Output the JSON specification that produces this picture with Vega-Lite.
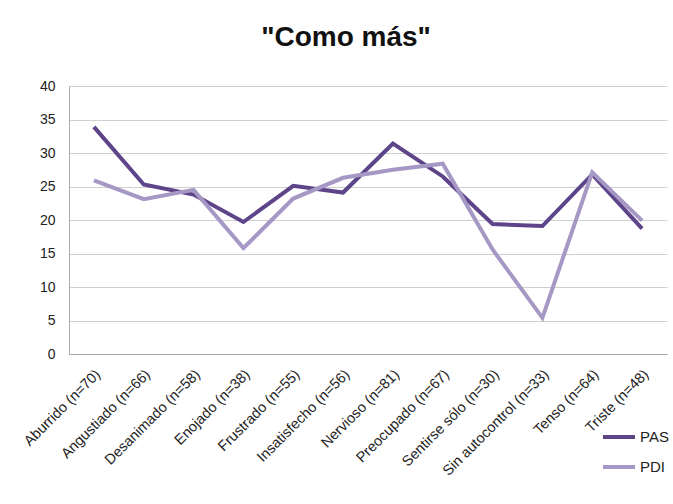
{
  "$schema": "https://vega.github.io/schema/vega-lite/v6.json",
  "autosize": "none",
  "width": 598,
  "height": 268,
  "padding": {"left": 69, "top": 86, "right": 6, "bottom": 150},
  "background": "white",
  "title": {"text": "\"Como más\"", "font": "Liberation Sans", "fontSize": 28, "fontWeight": "bold", "color": "#111", "anchor": "middle", "dx": -22, "offset": 27},
  "data": {"values": [
    {"c": "Aburrido (n=70)", "s": "PAS", "v": 33.9},
    {"c": "Angustiado (n=66)", "s": "PAS", "v": 25.3},
    {"c": "Desanimado (n=58)", "s": "PAS", "v": 23.8},
    {"c": "Enojado (n=38)", "s": "PAS", "v": 19.7},
    {"c": "Frustrado (n=55)", "s": "PAS", "v": 25.1},
    {"c": "Insatisfecho (n=56)", "s": "PAS", "v": 24.1},
    {"c": "Nervioso (n=81)", "s": "PAS", "v": 31.4},
    {"c": "Preocupado (n=67)", "s": "PAS", "v": 26.5},
    {"c": "Sentirse sólo (n=30)", "s": "PAS", "v": 19.4},
    {"c": "Sin autocontrol (n=33)", "s": "PAS", "v": 19.1},
    {"c": "Tenso (n=64)", "s": "PAS", "v": 26.8},
    {"c": "Triste (n=48)", "s": "PAS", "v": 18.7},
    {"c": "Aburrido (n=70)", "s": "PDI", "v": 25.9},
    {"c": "Angustiado (n=66)", "s": "PDI", "v": 23.1},
    {"c": "Desanimado (n=58)", "s": "PDI", "v": 24.5},
    {"c": "Enojado (n=38)", "s": "PDI", "v": 15.8},
    {"c": "Frustrado (n=55)", "s": "PDI", "v": 23.2},
    {"c": "Insatisfecho (n=56)", "s": "PDI", "v": 26.3},
    {"c": "Nervioso (n=81)", "s": "PDI", "v": 27.5},
    {"c": "Preocupado (n=67)", "s": "PDI", "v": 28.4},
    {"c": "Sentirse sólo (n=30)", "s": "PDI", "v": 15.6},
    {"c": "Sin autocontrol (n=33)", "s": "PDI", "v": 5.4},
    {"c": "Tenso (n=64)", "s": "PDI", "v": 27.1},
    {"c": "Triste (n=48)", "s": "PDI", "v": 19.9}
  ]},
  "mark": {"type": "line", "strokeWidth": 4, "strokeJoin": "miter"},
  "encoding": {
    "x": {"field": "c", "type": "nominal", "sort": null, "title": null,
      "scale": {"paddingInner": 0, "paddingOuter": 0},
      "axis": {"labelAngle": -45, "labelFont": "Liberation Sans", "labelFontSize": 14.5, "labelColor": "#222", "ticks": false, "domainColor": "#aaa", "labelPadding": 13, "labelOffset": -1}},
    "y": {"field": "v", "type": "quantitative", "title": null,
      "scale": {"domain": [0, 40]},
      "axis": {"values": [0, 5, 10, 15, 20, 25, 30, 35, 40], "labelFont": "Liberation Sans", "labelFontSize": 14, "labelColor": "#222", "ticks": false, "domainColor": "#aaa", "gridColor": "#cfcfcf", "labelPadding": 14}},
    "color": {"field": "s", "type": "nominal", "title": null,
      "scale": {"domain": ["PAS", "PDI"], "range": ["#5e4489", "#a698c4"]},
      "legend": {"orient": "none", "legendX": 532, "legendY": 333, "symbolType": "stroke", "symbolSize": 1024, "symbolStrokeWidth": 4, "labelFont": "Liberation Sans", "labelFontSize": 15, "labelColor": "#222", "rowPadding": 4, "labelOffset": 3}}
  },
  "config": {"view": {"stroke": null}}
}
